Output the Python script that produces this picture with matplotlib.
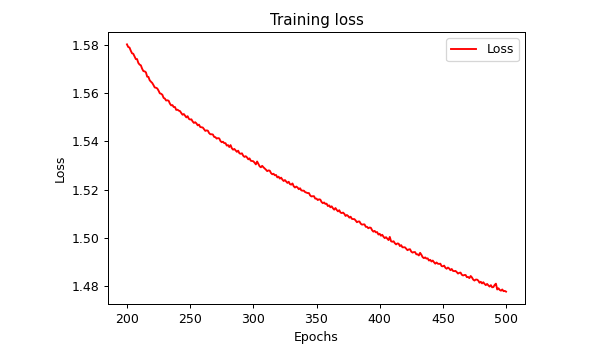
import numpy as np
import matplotlib
matplotlib.use("Agg")
import matplotlib.pyplot as plt

# loss per epoch (epochs 200..500)
epochs = np.arange(200, 501)
loss = [
    1.5803, 1.5792, 1.5790, 1.5777, 1.5766, 1.5764, 1.5753, 1.5742, 1.5742, 1.5726,
    1.5719, 1.5716, 1.5702, 1.5692, 1.5691, 1.5687, 1.5669, 1.5668, 1.5654, 1.5648,
    1.5643, 1.5634, 1.5624, 1.5623, 1.5620, 1.5611, 1.5600, 1.5598, 1.5594, 1.5581,
    1.5578, 1.5570, 1.5571, 1.5569, 1.5557, 1.5550, 1.5551, 1.5543, 1.5543, 1.5531,
    1.5532, 1.5528, 1.5526, 1.5518, 1.5511, 1.5514, 1.5507, 1.5500, 1.5505, 1.5494,
    1.5491, 1.5492, 1.5483, 1.5477, 1.5480, 1.5475, 1.5467, 1.5470, 1.5460, 1.5459,
    1.5458, 1.5451, 1.5444, 1.5446, 1.5445, 1.5435, 1.5430, 1.5430, 1.5429, 1.5419,
    1.5418, 1.5412, 1.5414, 1.5413, 1.5402, 1.5397, 1.5399, 1.5393, 1.5393, 1.5383,
    1.5385, 1.5377, 1.5385, 1.5372, 1.5366, 1.5369, 1.5363, 1.5357, 1.5362, 1.5351,
    1.5349, 1.5351, 1.5341, 1.5336, 1.5339, 1.5334, 1.5326, 1.5330, 1.5320, 1.5319,
    1.5318, 1.5312, 1.5305, 1.5317, 1.5307, 1.5297, 1.5293, 1.5299, 1.5293, 1.5288,
    1.5283, 1.5277, 1.5280, 1.5279, 1.5269, 1.5264, 1.5266, 1.5260, 1.5261, 1.5251,
    1.5254, 1.5246, 1.5250, 1.5242, 1.5236, 1.5240, 1.5234, 1.5228, 1.5233, 1.5223,
    1.5221, 1.5226, 1.5214, 1.5209, 1.5213, 1.5209, 1.5202, 1.5206, 1.5197, 1.5196,
    1.5196, 1.5190, 1.5188, 1.5186, 1.5186, 1.5176, 1.5172, 1.5173, 1.5173, 1.5163,
    1.5163, 1.5157, 1.5160, 1.5159, 1.5149, 1.5144, 1.5147, 1.5141, 1.5142, 1.5132,
    1.5135, 1.5127, 1.5131, 1.5123, 1.5117, 1.5124, 1.5116, 1.5110, 1.5115, 1.5105,
    1.5103, 1.5105, 1.5100, 1.5091, 1.5095, 1.5091, 1.5084, 1.5088, 1.5079, 1.5078,
    1.5078, 1.5072, 1.5065, 1.5068, 1.5068, 1.5059, 1.5055, 1.5056, 1.5056, 1.5046,
    1.5046, 1.5040, 1.5043, 1.5042, 1.5032, 1.5026, 1.5029, 1.5023, 1.5024, 1.5014,
    1.5017, 1.5009, 1.5013, 1.5005, 1.4999, 1.5003, 1.4997, 1.4991, 1.5004, 1.4986,
    1.4984, 1.4986, 1.4978, 1.4973, 1.4977, 1.4976, 1.4966, 1.4970, 1.4961, 1.4961,
    1.4961, 1.4955, 1.4949, 1.4952, 1.4953, 1.4943, 1.4939, 1.4941, 1.4941, 1.4932,
    1.4932, 1.4927, 1.4938, 1.4930, 1.4920, 1.4916, 1.4919, 1.4914, 1.4915, 1.4906,
    1.4909, 1.4902, 1.4906, 1.4899, 1.4893, 1.4898, 1.4893, 1.4892, 1.4893, 1.4883,
    1.4882, 1.4885, 1.4876, 1.4872, 1.4877, 1.4873, 1.4866, 1.4871, 1.4863, 1.4862,
    1.4863, 1.4858, 1.4852, 1.4855, 1.4856, 1.4847, 1.4844, 1.4846, 1.4846, 1.4837,
    1.4838, 1.4833, 1.4842, 1.4836, 1.4827, 1.4823, 1.4827, 1.4827, 1.4823, 1.4814,
    1.4818, 1.4811, 1.4816, 1.4809, 1.4804, 1.4809, 1.4803, 1.4798, 1.4804, 1.4795,
    1.4796, 1.4805, 1.4810, 1.4786, 1.4791, 1.4784, 1.4781, 1.4786, 1.4779, 1.4780,
    1.4777,
]

dpi = 90
fig = plt.figure(figsize=(609 / dpi, 358 / dpi), dpi=dpi)
ax = fig.add_axes([108 / 609, 1 - 304 / 358, (525 - 108) / 609, (304 - 32) / 358])

ax.plot(epochs, loss, color='r', label='Loss')
ax.set_title('Training loss')
ax.set_xlabel('Epochs')
ax.set_ylabel('Loss')
ax.legend()

fig.savefig('out.png', dpi=dpi)
